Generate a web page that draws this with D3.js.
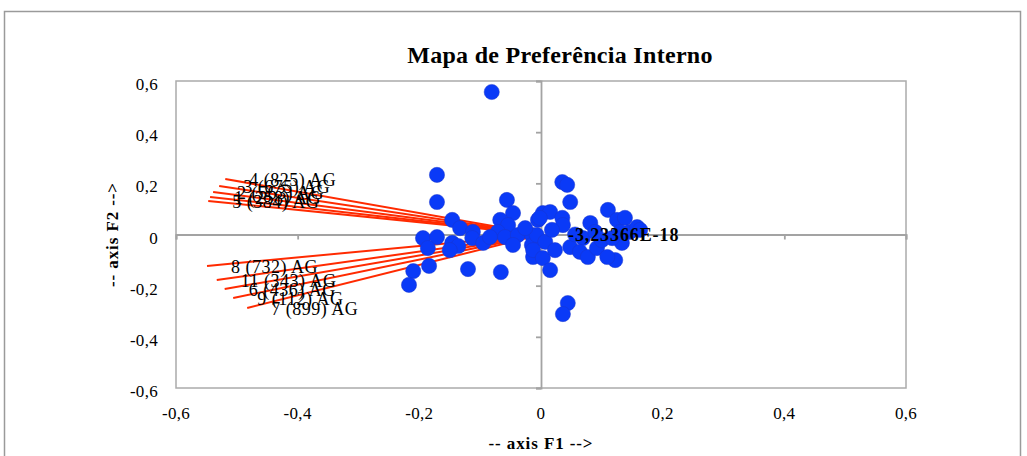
<!DOCTYPE html>
<html>
<head>
<meta charset="utf-8">
<script src="https://cdn.jsdelivr.net/npm/d3@7"></script>
<style>
  body { margin: 0; background: #fff; }
  svg { display: block; font-family: "Liberation Serif", "DejaVu Serif", serif; }
</style>
</head>
<body>
<div id="chart"></div>
<script>
// observations (consumers) on F1 / F2
const pointsF1 = [-0.081, -0.171, -0.171, -0.146, -0.133, -0.112, -0.113, -0.095, -0.194, -0.171,
  -0.186, -0.146, -0.136, -0.150, -0.210, -0.184, -0.217, -0.120, -0.066, -0.056,
  -0.046, -0.067, -0.054, -0.071, -0.059, -0.038, -0.046, -0.015, -0.015, -0.013,
  -0.005, -0.084, 0.035, 0.043, 0.048, 0.003, 0.015, 0.035, 0.036, -0.002,
  -0.007, 0.007, -0.013, 0.003, 0.015, 0.048, 0.069, 0.081, 0.064, 0.077,
  0.092, 0.100, 0.110, 0.125, 0.138, 0.146, 0.158, 0.163, 0.122, 0.109,
  0.133, 0.117, 0.044, 0.036, 0.018, 0.056, 0.023, 0.089, 0.130, -0.026];
const pointsF2 = [0.557, 0.233, 0.127, 0.057, 0.025, 0.010, -0.014, -0.033, -0.014, -0.010,
  -0.053, -0.033, -0.045, -0.061, -0.143, -0.123, -0.197, -0.135, -0.147, 0.135,
  0.084, 0.057, 0.037, 0.010, -0.010, -0.002, -0.041, -0.002, -0.041, -0.088,
  0.057, -0.010, 0.205, 0.194, 0.127, 0.084, 0.088, 0.065, 0.037, 0.065,
  -0.002, -0.029, -0.061, -0.092, -0.139, -0.049, -0.014, 0.045, -0.068, -0.088,
  -0.053, -0.022, 0.096, 0.057, 0.065, 0.010, 0.029, 0.018, -0.100, -0.088,
  -0.033, -0.014, -0.268, -0.311, 0.018, 0.000, -0.061, 0.010, 0.010, 0.025];

// product vectors
const vectorLabels = ["4 (825) AG", "3 (675) AG", "2 (563) AG", "1 (258) AG", "5 (384) AG",
  "8 (732) AG", "11 (343) AG", "6 (436) AG", "9 (112) AG", "7 (899) AG"];
const vectorF1 = [-0.519, -0.529, -0.539, -0.544, -0.547, -0.549, -0.533, -0.520, -0.506, -0.483];
const vectorF2 = [0.217, 0.190, 0.166, 0.147, 0.131, -0.123, -0.178, -0.213, -0.248, -0.287];

const xTicks = [-0.6, -0.4, -0.2, 0, 0.2, 0.4, 0.6];
const yTicks = [-0.6, -0.4, -0.2, 0, 0.2, 0.4, 0.6];
const originLabel = "-3,23366E-18";

const W = 1027, H = 456;
const margin = { top: 81, right: 121, bottom: 68, left: 176 };
const plotW = W - margin.left - margin.right;
const plotH = H - margin.top - margin.bottom;

const fmt = d => d === 0 ? "0" : d.toFixed(1).replace(".", ",");

const svg = d3.select("#chart").append("svg")
  .attr("width", W).attr("height", H);

// outer chart border
svg.append("rect")
  .attr("x", 4.5).attr("y", 11.5)
  .attr("width", 1016).attr("height", 470)
  .attr("fill", "none").attr("stroke", "#9a9a9a").attr("stroke-width", 1.5);

svg.append("text")
  .attr("x", 560).attr("y", 63)
  .attr("text-anchor", "middle")
  .attr("font-weight", "bold").attr("font-size", 24)
  .attr("letter-spacing", 0.3)
  .text("Mapa de Preferência Interno");

const g = svg.append("g").attr("transform", `translate(${margin.left},${margin.top})`);

const x = d3.scaleLinear().domain([-0.6, 0.6]).range([0, plotW]);
const y = d3.scaleLinear().domain([-0.6, 0.6]).range([plotH, 0]);

// plot frame
g.append("rect")
  .attr("width", plotW).attr("height", plotH)
  .attr("fill", "none").attr("stroke", "#ababab").attr("stroke-width", 1.5);

// axes through the origin
const xAxisG = g.append("g")
  .attr("transform", `translate(0,${y(0)})`)
  .call(d3.axisBottom(x).tickValues(xTicks).tickSize(5).tickFormat(""));
const yAxisG = g.append("g")
  .attr("transform", `translate(${x(0)},0)`)
  .call(d3.axisLeft(y).tickValues(yTicks).tickSize(5).tickFormat(""));
[xAxisG, yAxisG].forEach(a => {
  a.selectAll("path, line").attr("stroke", "#a3a3a3").attr("stroke-width", 1.8);
});

// tick labels on the frame
g.append("g").selectAll("text")
  .data(xTicks).enter().append("text")
  .attr("x", d => x(d)).attr("y", plotH + 31)
  .attr("text-anchor", "middle").attr("font-size", 17).attr("letter-spacing", 0.3)
  .text(fmt);
g.append("g").selectAll("text")
  .data(yTicks).enter().append("text")
  .attr("x", -18).attr("y", d => y(d) + 9)
  .attr("text-anchor", "end").attr("font-size", 17).attr("letter-spacing", 0.3)
  .text(fmt);

// axis titles
svg.append("text")
  .attr("x", 541).attr("y", 449)
  .attr("text-anchor", "middle").attr("font-weight", "bold").attr("font-size", 17)
  .attr("letter-spacing", 0.9)
  .text("-- axis F1 -->");
svg.append("text")
  .attr("transform", `translate(118,${margin.top + y(0)}) rotate(-90)`)
  .attr("text-anchor", "middle").attr("font-weight", "bold").attr("font-size", 17)
  .attr("letter-spacing", 0.9)
  .text("-- axis F2 -->");

// vectors
g.append("g").selectAll("line")
  .data(vectorLabels).enter().append("line")
  .attr("x1", x(0)).attr("y1", y(0))
  .attr("x2", (d, i) => x(vectorF1[i]))
  .attr("y2", (d, i) => y(vectorF2[i]))
  .attr("stroke", "#ff2a00").attr("stroke-width", 2);

// observations
g.append("g").selectAll("circle")
  .data(pointsF1).enter().append("circle")
  .attr("cx", d => x(d))
  .attr("cy", (d, i) => y(pointsF2[i]))
  .attr("r", 7.6)
  .attr("fill", "#0a3af7")
  .attr("stroke", "#1a36cc").attr("stroke-width", 0.5);

// vector labels
g.append("g").selectAll("text")
  .data(vectorLabels).enter().append("text")
  .attr("x", (d, i) => x(vectorF1[i]) + 24)
  .attr("y", (d, i) => y(vectorF2[i]) + 7)
  .attr("font-size", 18).attr("letter-spacing", 0.5)
  .text(d => d);

g.append("text")
  .attr("x", x(0) + 27).attr("y", y(0) + 6)
  .attr("font-weight", "bold").attr("font-size", 18)
  .attr("letter-spacing", 0.9)
  .text(originLabel);
</script>
</body>
</html>
